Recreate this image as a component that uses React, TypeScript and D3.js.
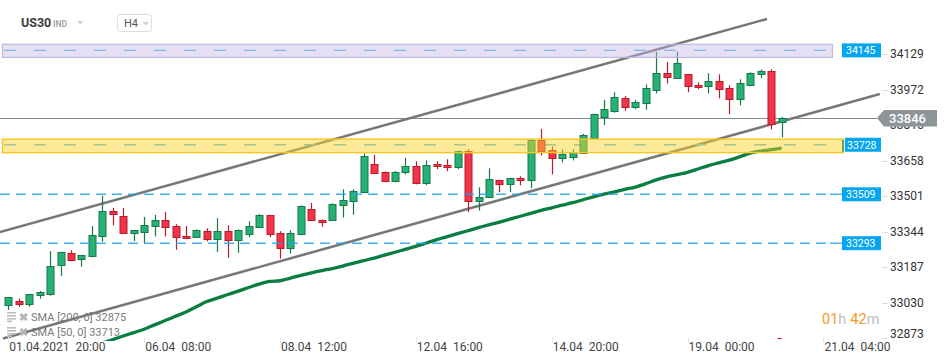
import React from 'react';
import * as d3 from 'd3';

const W = 950;
const H = 364;

// ---- data (US30, H4) ----
const OPEN = [33019,33039,33023,33063,33070,33195,33248,33222,33235,33323,33434,33412,33337,33341,33368,33394,33368,33323,33319,33346,33310,33346,33306,33332,33363,33416,33337,33270,33332,33443,33396,33396,33460,33478,33518,33642,33606,33567,33606,33633,33558,33642,33637,33628,33699,33478,33496,33571,33553,33580,33571,33749,33704,33668,33676,33690,33759,33852,33878,33933,33893,33911,33969,34044,34022,34039,33991,33986,34008,33977,33929,33991,34039,34053,33827];
const HIGH = [33056,33048,33069,33082,33258,33255,33262,33242,33369,33502,33449,33449,33352,33409,33418,33431,33377,33369,33354,33359,33404,33372,33354,33390,33422,33418,33346,33350,33460,33471,33398,33469,33531,33531,33690,33683,33610,33612,33670,33655,33659,33655,33664,33702,33708,33540,33624,33573,33582,33589,33751,33798,33721,33708,33708,33776,33865,33926,33960,33943,33926,33995,34139,34094,34139,34041,34004,34044,34039,33991,34017,34048,34061,34061,33851];
const LOW = [32998,33012,33012,33048,33061,33149,33215,33189,33231,33300,33372,33335,33303,33293,33323,33323,33264,33313,33317,33301,33255,33229,33251,33319,33361,33319,33225,33247,33328,33392,33366,33394,33406,33419,33516,33597,33562,33562,33597,33553,33549,33620,33611,33620,33430,33437,33494,33518,33518,33549,33536,33681,33597,33650,33659,33688,33753,33815,33870,33878,33885,33883,33955,33999,34020,33960,33973,33955,33933,33863,33902,33986,34022,33796,33761];
const CLOSE = [33054,33023,33067,33076,33191,33253,33217,33240,33328,33434,33421,33337,33350,33372,33394,33363,33319,33315,33350,33310,33346,33306,33350,33368,33416,33332,33270,33337,33456,33394,33385,33465,33483,33522,33678,33602,33567,33606,33633,33558,33637,33633,33628,33699,33478,33496,33575,33553,33580,33571,33749,33699,33668,33686,33694,33770,33863,33885,33938,33893,33916,33977,34044,34026,34088,33986,33982,34008,33973,33929,33999,34044,34053,33818,33846];

const SMA50_START = 7;
const SMA50 = [32821,32836,32852,32867,32883,32898,32913,32932,32951,32970,32989,33012,33035,33050,33066,33081,33097,33112,33124,33127,33139,33151,33162,33172,33181,33192,33204,33216,33227,33240,33253,33266,33279,33294,33309,33322,33335,33348,33362,33374,33386,33399,33412,33425,33438,33449,33461,33472,33485,33498,33510,33520,33531,33541,33556,33573,33586,33596,33606,33621,33636,33648,33660,33675,33691,33700,33706,33713];

const TICK_INDEX = [0, 13, 26, 39, 52, 65, 78];
const TICK_DATE = ['01.04.2021', '06.04', '08.04', '12.04', '14.04', '19.04', '21.04'];
const TICK_TIME = ['20:00', '08:00', '12:00', '16:00', '20:00', '00:00', '04:00'];

const PRICE_TICKS = [34129, 33972, 33815, 33658, 33501, 33344, 33187, 33030, 32873];

const BAND_LEVELS = [34145, 33728];
const BAND_TOP = [34172, 33753];
const BAND_BOTTOM = [34114, 33693];
const LINE_LEVELS = [33509, 33293];

const CHANNEL_UPPER = [[-0.8, 33342], [72.6, 34284]];
const CHANNEL_LOWER = [[-0.5, 32872], [83.4, 33952]];

const LAST_PRICE = 33846;
const SMA200_VALUE = 32875;
const SMA50_VALUE = 33713;

export default function App() {
  const x = d3.scaleLinear().domain([0, 74]).range([8.3, 781.6]);
  const y = d3.scaleLinear().domain([33030, 34129]).range([302.7, 54]);

  const up = '#26b175';
  const upLine = '#17774a';
  const dn = '#f23349';
  const dnLine = '#b81c2c';

  const smaLine = d3
    .line<number>()
    .x((_, k) => x(k + SMA50_START))
    .y((v) => y(v))
    .curve(d3.curveMonotoneX)(SMA50) as string;

  const chan = (pts: number[][]) =>
    d3.line<number[]>().x((p) => x(p[0])).y((p) => y(p[1]))(pts) as string;

  const font = 'Roboto, "Noto Sans", sans-serif';
  const yLast = y(LAST_PRICE);

  return (
    <svg
      width={W}
      height={H}
      style={{ position: 'absolute', left: 0, top: 0, display: 'block', background: '#fff' }}
      fontFamily={font}
    >
      <defs>
        <clipPath id="plot">
          <rect x={0} y={0} width={882} height={341} />
        </clipPath>
      </defs>

      {/* header */}
      <text x={21} y={27} fontSize={12.5} fontWeight={700} fill="#3c3c3c">US30</text>
      <text x={53} y={27} fontSize={8.5} fontWeight={700} fill="#a6a6a6">IND</text>
      <path d="M77,21 L83.5,21 L80.25,24.5 Z" fill="#cfcfcf" />
      <rect x={117.5} y={14.5} width={34} height={17} rx={3} fill="#fff" stroke="#dcdcdc" />
      <text x={124} y={27} fontSize={11} fill="#555">H4</text>
      <path d="M142.5,22 L149,22 L145.75,25.5 Z" fill="#cfcfcf" />

      <g clipPath="url(#plot)">
        {/* current price line */}
        <line x1={0} x2={877} y1={Math.round(yLast) + 0.5} y2={Math.round(yLast) + 0.5} stroke="#858c8f" strokeWidth={1} />

        {/* channel */}
        <path d={chan(CHANNEL_UPPER)} stroke="#7d7d7d" strokeWidth={2.6} fill="none" />
        <path d={chan(CHANNEL_LOWER)} stroke="#7d7d7d" strokeWidth={2.6} fill="none" />
        <path d={chan(CHANNEL_UPPER)} stroke="#555" strokeWidth={1} strokeDasharray="1,1.5" fill="none" opacity={0.6} />
        <path d={chan(CHANNEL_LOWER)} stroke="#555" strokeWidth={1} strokeDasharray="1,1.5" fill="none" opacity={0.6} />

        {/* SMA 50 */}
        <path d={smaLine} stroke="#0a7d42" strokeWidth={3.3} fill="none" strokeLinejoin="round" />

        {/* dashed lines inside bands (under band fill) */}
        {BAND_LEVELS.map((v, k) => (
          <line key={'bl' + k} x1={0} x2={842} y1={y(v)} y2={y(v)} stroke="#5db6ec" strokeWidth={1.3} strokeDasharray="12,18" strokeDashoffset={-4} />
        ))}

        {/* candles */}
        {OPEN.map((o, i) => {
          const c = CLOSE[i];
          const isUp = c >= o;
          const cx = Math.round(x(i));
          const top = y(Math.max(o, c));
          const bot = y(Math.min(o, c));
          const bt = Math.round(top) + 0.5;
          const bh = Math.max(1, Math.round(bot) - Math.round(top));
          return (
            <g key={i}>
              <line x1={cx + 0.5} x2={cx + 0.5} y1={y(HIGH[i])} y2={y(LOW[i])} stroke={isUp ? upLine : dnLine} strokeWidth={1.2} />
              <rect x={cx - 3} y={bt} width={7} height={bh} fill={isUp ? up : dn} stroke={isUp ? upLine : dnLine} strokeWidth={1} />
            </g>
          );
        })}

        {/* horizontal levels */}
        {LINE_LEVELS.map((v, k) => (
          <g key={'ll' + k}>
            <line x1={0} x2={830} y1={y(v)} y2={y(v)} stroke="#1ea6ee" strokeWidth={1.4} strokeDasharray="10,6" opacity={0.85} />
            <line x1={830} x2={842} y1={y(v)} y2={y(v)} stroke="#1ea6ee" strokeWidth={1.4} opacity={0.85} />
          </g>
        ))}

        {/* bands (on top, translucent) */}
        <rect x={2.5} y={y(BAND_TOP[0])} width={830} height={y(BAND_BOTTOM[0]) - y(BAND_TOP[0])} fill="rgb(196,180,228)" fillOpacity={0.42} stroke="#c6b5e2" strokeWidth={1.2} />
        <rect x={2.5} y={y(BAND_TOP[1])} width={841} height={y(BAND_BOTTOM[1]) - y(BAND_TOP[1])} fill="rgb(250,212,40)" fillOpacity={0.48} stroke="#f4c824" strokeWidth={1.4} />
        <line x1={843} x2={843} y1={y(BAND_TOP[1]) + 1} y2={y(BAND_BOTTOM[1]) - 1} stroke="#2a9a5a" strokeWidth={1.5} />
      </g>

      {/* level labels */}
      {[BAND_LEVELS[0], BAND_LEVELS[1], LINE_LEVELS[0], LINE_LEVELS[1]].map((v, k) => {
        const cy = y(v);
        const x0 = k === 1 ? 845 : 842;
        return (
          <g key={'lab' + k}>
            <rect x={x0} y={cy - 7} width={881 - x0} height={14} fill="#05a6f0" />
            <text x={x0 + (k === 1 ? 2 : 4)} y={cy + 3.8} fontSize={10.5} fill="#fff">{v}</text>
          </g>
        );
      })}

      {/* price axis */}
      {PRICE_TICKS.map((v) => {
        const ty = Math.min(y(v), 334);
        return (
          <g key={'pt' + v}>
            <line x1={882} x2={888} y1={Math.round(y(v)) + 0.5} y2={Math.round(y(v)) + 0.5} stroke="#dedede" />
            <text x={890} y={ty + 4.3} fontSize={12} fill="#333">{v}</text>
          </g>
        );
      })}

      {/* last price tag */}
      <path
        d={`M877,${yLast} L884,${yLast - 8} L937,${yLast - 8} L937,${yLast + 8.5} L884,${yLast + 8.5} Z`}
        fill="#8d9598"
      />
      <text x={889} y={yLast + 4.8} fontSize={13} fontWeight={500} fill="#fff">{LAST_PRICE}</text>

      {/* time axis */}
      {TICK_INDEX.map((ti, k) => {
        const tx = x(ti);
        return (
          <g key={'tt' + k}>
            <line x1={Math.round(tx) + 0.5} x2={Math.round(tx) + 0.5} y1={337} y2={343} stroke="#e6e6e6" />
            <text x={tx + 1} y={351} fontSize={12} fill="#444">
              <tspan>{TICK_DATE[k]}</tspan>
              <tspan dx={6}>{TICK_TIME[k]}</tspan>
            </text>
          </g>
        );
      })}
      <line x1={x(74) - 4} x2={x(74)} y1={338.5} y2={338.5} stroke="#e0202a" strokeWidth={1.2} />

      {/* countdown */}
      <text x={822} y={324} fontSize={14.5}>
        <tspan fill="#f59b1b">01</tspan>
        <tspan fill="#bdbdbd">h</tspan>
        <tspan fill="#f59b1b" dx={4}>42</tspan>
        <tspan fill="#bdbdbd">m</tspan>
      </text>

      {/* indicator legend */}
      {[
        { label: 'SMA [200, 0] ' + SMA200_VALUE, cy: 317 },
        { label: 'SMA [50, 0] ' + SMA50_VALUE, cy: 332 },
      ].map((r, k) => (
        <g key={'lg' + k}>
          <rect x={7} y={r.cy - 5} width={9} height={1.6} fill="#bdbdbd" />
          <rect x={7} y={r.cy - 2} width={9} height={1.6} fill="#bdbdbd" />
          <rect x={7} y={r.cy + 1} width={9} height={1.6} fill="#bdbdbd" />
          <rect x={7} y={r.cy + 3.5} width={5} height={1.6} fill="#bdbdbd" />
          <text x={19} y={r.cy + 4} fontSize={11} fontWeight={700} fill="#b5b5b5">✖</text>
          <text x={31} y={r.cy + 4} fontSize={11} fill="#7a7a7a">{r.label}</text>
        </g>
      ))}
    </svg>
  );
}
